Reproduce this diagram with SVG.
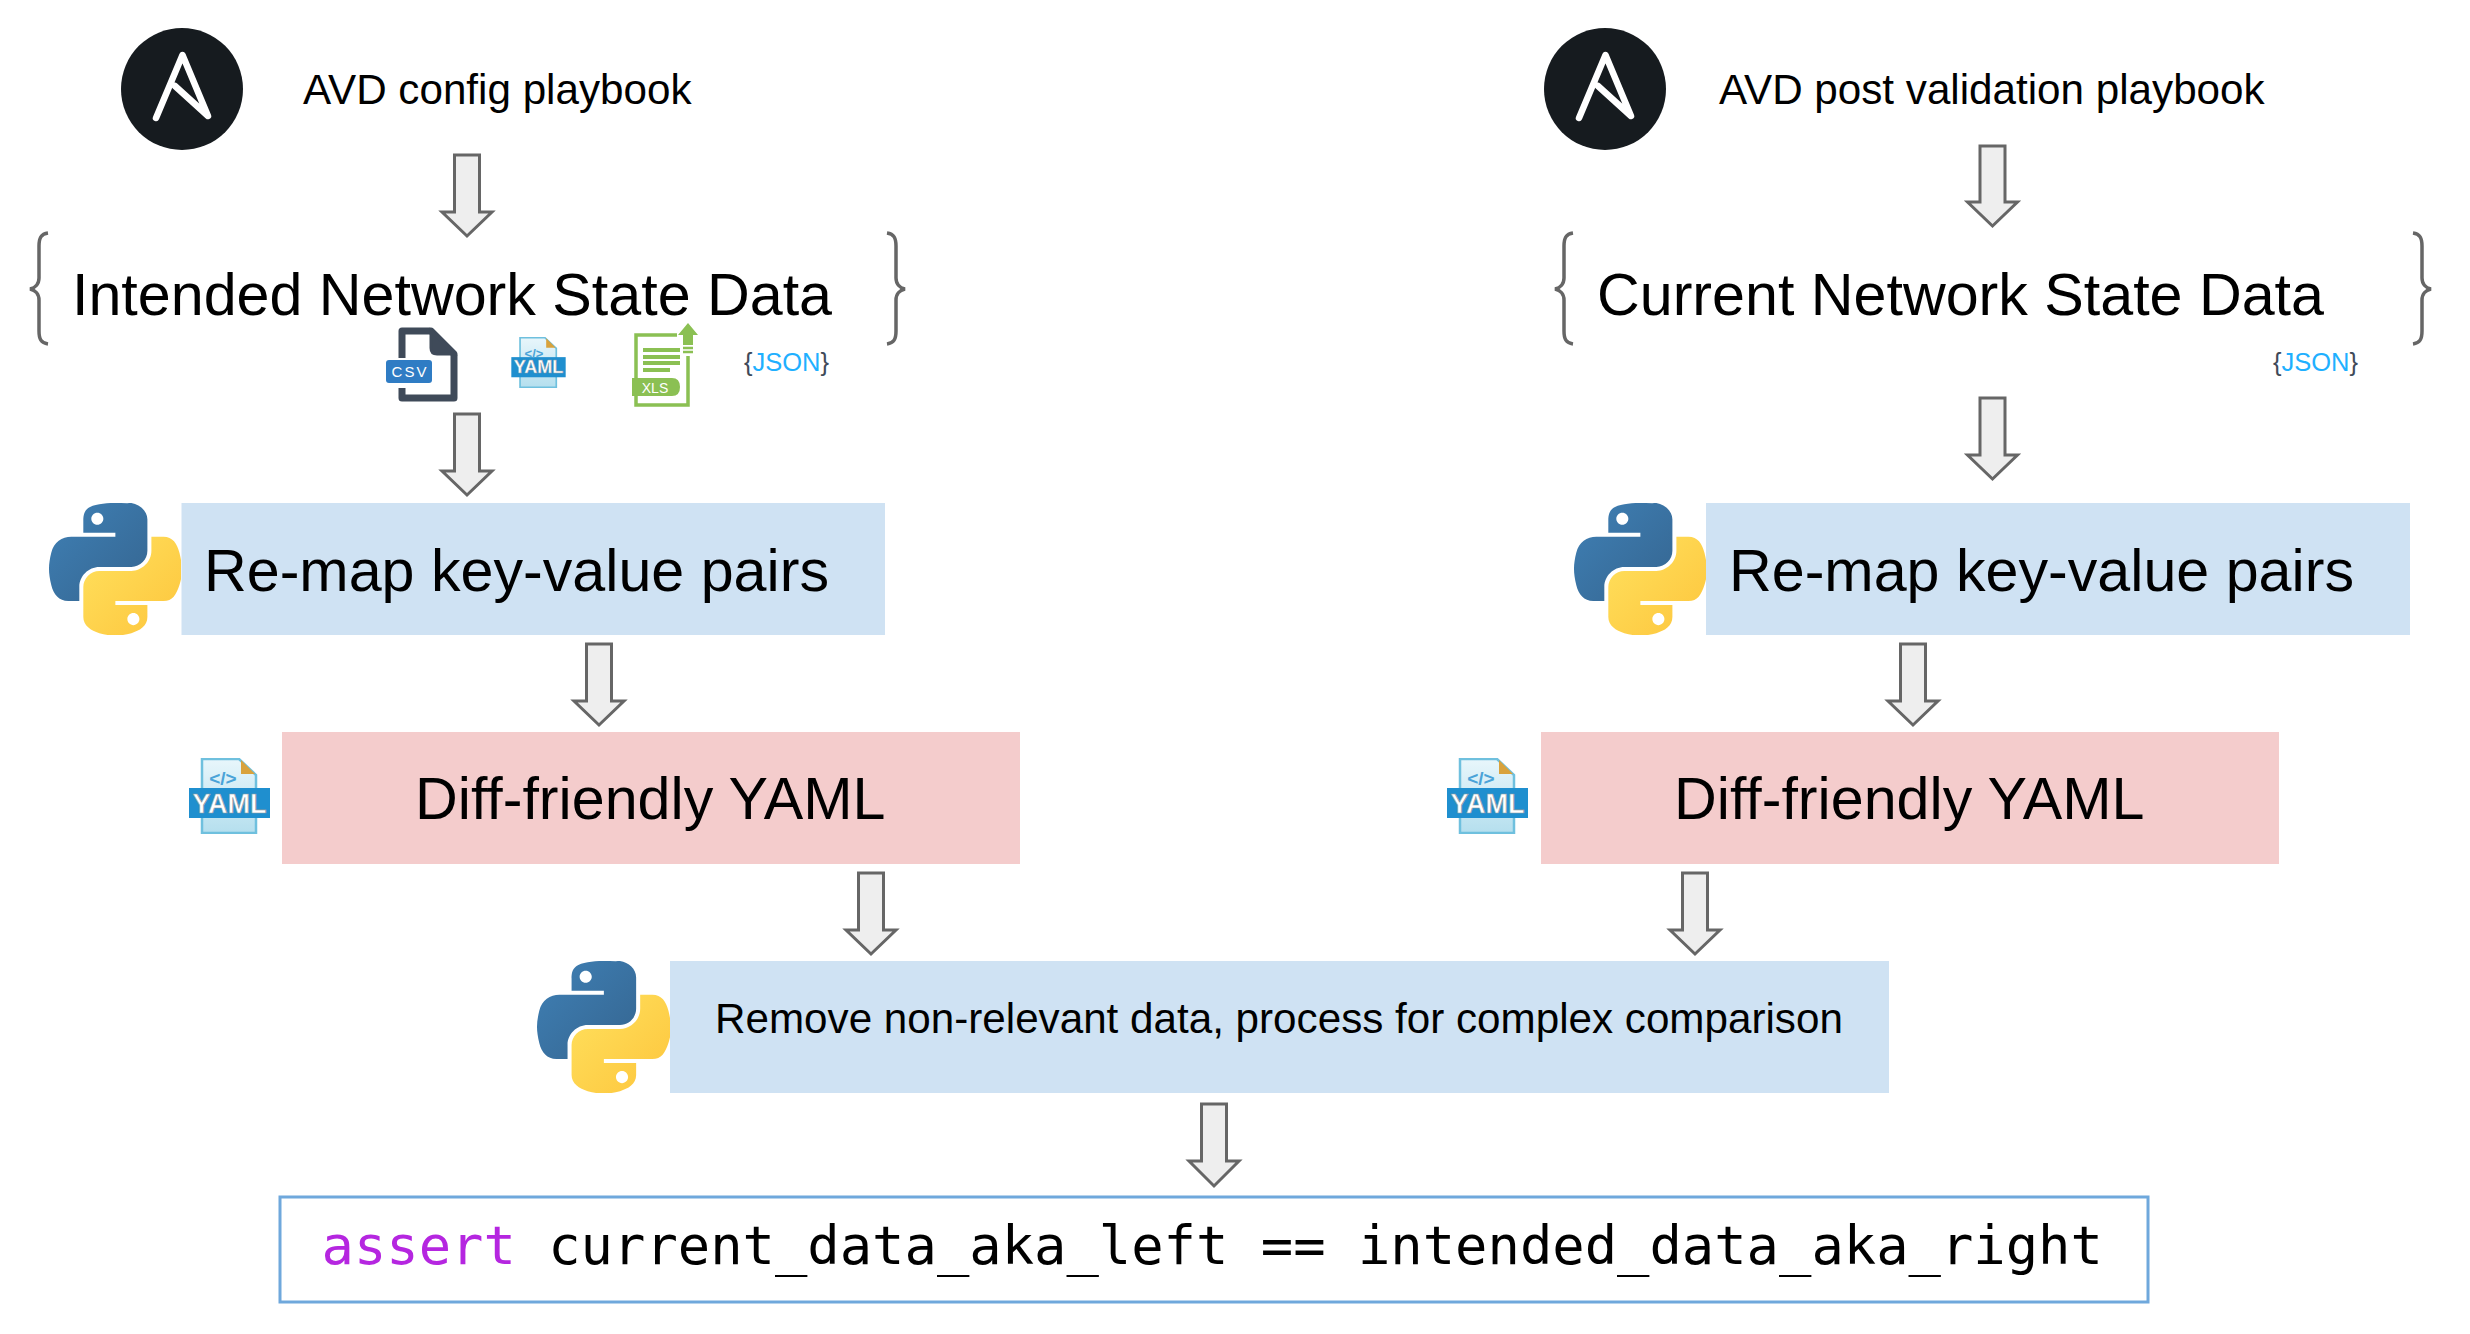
<svg xmlns="http://www.w3.org/2000/svg" width="2470" height="1334" viewBox="0 0 2470 1334">
<style>
text{font-family:"Liberation Sans",Arial,sans-serif;fill:#000}
.play{font-size:42.2px}
.state{font-size:59.2px}
.box{font-size:59.2px}
.small{font-size:42.2px}
.blue{fill:#cfe2f3}
.pink{fill:#f4cccc}
.arrow{fill:#eeeeee;stroke:#666666;stroke-width:3;stroke-linejoin:miter}
.brace{fill:none;stroke:#666666;stroke-width:3.5}
.a{fill:none;stroke:#fff;stroke-width:6.5;stroke-linejoin:round;stroke-linecap:round}
.code{font-family:"DejaVu Sans Mono",monospace;font-size:53.8px}
.json{font-size:25.5px}
.jb{fill:#3f4a59}
.jt{fill:#1fb0ff}
.ym{font-weight:700;fill:#fff;stroke:#8d9aa3;stroke-width:.7;text-anchor:middle}
.ytag{font-weight:700;fill:#4aa3d8;text-anchor:middle}
</style>
<defs>
<linearGradient id="pyB" x1="0" y1="0" x2="1" y2="1"><stop offset="0" stop-color="#3f80b5"/><stop offset="1" stop-color="#356590"/></linearGradient>
<linearGradient id="pyY" x1="0" y1="0" x2="1" y2="1"><stop offset="0" stop-color="#ffe15e"/><stop offset="1" stop-color="#fdc53c"/></linearGradient>
<linearGradient id="yb" x1="0" y1="0" x2="0" y2="1"><stop offset="0" stop-color="#e8f6fb"/><stop offset="1" stop-color="#b5dfee"/></linearGradient>
<symbol id="python" viewBox="0 0 110.4 111.9" preserveAspectRatio="none">
<path fill="url(#pyB)" d="M54.919.001C50.335.022 45.958.413 42.106 1.095 30.76 3.099 28.7 7.295 28.7 15.032v10.219h26.813v3.406H18.638c-7.792 0-14.616 4.684-16.75 13.594-2.462 10.213-2.571 16.586 0 27.25 1.906 7.938 6.458 13.594 14.25 13.594h9.219v-12.25c0-8.85 7.657-16.656 16.75-16.656h26.781c7.455 0 13.406-6.138 13.406-13.625V14.032c0-7.266-6.13-12.725-13.406-13.937C64.282.328 59.502-.02 54.919.001zM40.419 8.22c2.77 0 5.031 2.299 5.031 5.125 0 2.816-2.262 5.094-5.031 5.094-2.78 0-5.031-2.278-5.031-5.094 0-2.826 2.251-5.125 5.031-5.125z"/>
<path fill="url(#pyY)" d="M85.638 28.657v11.906c0 9.231-7.826 17-16.75 17H42.106c-7.336 0-13.406 6.278-13.406 13.625v25.531c0 7.266 6.319 11.54 13.406 13.625 8.487 2.496 16.626 2.947 26.781 0 6.75-1.954 13.406-5.888 13.406-13.625V86.501H55.513v-3.406h40.187c7.792 0 10.696-5.435 13.406-13.594 2.799-8.399 2.68-16.476 0-27.25-1.926-7.757-5.604-13.594-13.406-13.594zM70.575 93.313c2.779 0 5.031 2.277 5.031 5.094 0 2.826-2.252 5.125-5.031 5.125-2.77 0-5.031-2.299-5.031-5.125 0-2.817 2.262-5.094 5.031-5.094z"/>
</symbol>
<symbol id="ansible" viewBox="0 0 122 122">
<circle cx="61" cy="61" r="61" fill="#161b1f"/>
<path class="a" d="M35 90L61.500 27L87 88L54 58"/>
</symbol>
<symbol id="yamlShape" viewBox="0 0 81 76">
<path d="M13 1H50L67 17V75H13Z" fill="url(#yb)" stroke="#6fc0de" stroke-width="2.500"/>
<path d="M52 2L66 16H52Z" fill="#d9a23c"/>
<rect x="0" y="30" width="81" height="30" fill="#1f8fcf"/>
</symbol>
</defs>

<g id="connectors">
<polygon class="arrow" points="454.500,155 479.500,155 479.500,212 492,212 467,236 442,212 454.500,212"/>
<polygon class="arrow" points="454.500,414 479.500,414 479.500,471 492,471 467,495 442,471 454.500,471"/>
<polygon class="arrow" points="586.500,644 611.500,644 611.500,701 624,701 599,725 574,701 586.500,701"/>
<polygon class="arrow" points="858.500,873 883.500,873 883.500,930 896,930 871,954 846,930 858.500,930"/>
<polygon class="arrow" points="1201.500,1104 1226.500,1104 1226.500,1161 1239,1161 1214,1186 1189,1161 1201.500,1161"/>
<polygon class="arrow" points="1980,146 2005,146 2005,202 2017.500,202 1992.500,226 1967.500,202 1980,202"/>
<polygon class="arrow" points="1980,398 2005,398 2005,455 2017.500,455 1992.500,479 1967.500,455 1980,455"/>
<polygon class="arrow" points="1900.500,644 1925.500,644 1925.500,701 1938,701 1913,725 1888,701 1900.500,701"/>
<polygon class="arrow" points="1682.500,873 1707.500,873 1707.500,930 1720,930 1695,954 1670,930 1682.500,930"/>
</g>

<g id="ansible-left"><use href="#ansible" x="121" y="28" width="122" height="122"/></g>
<g id="ansible-right"><use href="#ansible" x="1544" y="28" width="122" height="122"/></g>
<g id="label-config"><text class="play" x="303" y="104">AVD config playbook</text></g>
<g id="label-post"><text class="play" x="1719" y="104">AVD post validation playbook</text></g>

<g id="intended-state">
<path class="brace" d="M48 233C41 234 39 238 39 246V278C39 284 35 288 30 289C35 290 39 294 39 300V331C39 339 41 343 48 344"/>
<path class="brace" d="M887 233C894 234 896 238 896 246V278C896 284 900 288 905 289C900 290 896 294 896 300V331C896 339 894 343 887 344"/>
<text class="state" x="72" y="315">Intended Network State Data</text>
</g>
<g id="current-state">
<path class="brace" d="M1573 233C1566 234 1564 238 1564 246V278C1564 284 1560 288 1555 289C1560 290 1564 294 1564 300V331C1564 339 1566 343 1573 344"/>
<path class="brace" d="M2413 233C2420 234 2422 238 2422 246V278C2422 284 2426 288 2431 289C2426 290 2422 294 2422 300V331C2422 339 2420 343 2413 344"/>
<text class="state" x="1597" y="315">Current Network State Data</text>
</g>

<g id="csv-icon">
<path d="M402 358V331H431L454 354V398H402V388" fill="none" stroke="#3f4a59" stroke-width="7" stroke-linejoin="round"/>
<path d="M431 331V348Q431 354 437 354H454Z" fill="#3f4a59" stroke="#3f4a59" stroke-width="3"/>
<rect x="386" y="360" width="46" height="23" rx="3" fill="#2f7cc4"/>
<text x="410" y="377" font-size="15" text-anchor="middle" letter-spacing="2" style="fill:#fff">CSV</text>
</g>
<g id="yaml-small-icon">
<use href="#yamlShape" x="511" y="337" width="55" height="51"/>
<text class="ytag" x="534" y="358" font-size="13">&lt;/&gt;</text>
<text class="ym" x="538.500" y="373" font-size="18" style="stroke-width:.4">YAML</text>
</g>
<g id="xls-icon">
<path d="M677 335H636V405H688V356" fill="none" stroke="#8bc053" stroke-width="3.500"/>
<path d="M643 350H680M643 357H680M643 363H680M643 370H670" stroke="#8bc053" stroke-width="4" fill="none"/>
<path d="M632 378H672Q680 378 680 387Q680 396 672 396H632Z" fill="#8bc053"/>
<text x="655" y="393" font-size="14" text-anchor="middle" style="fill:#fff">XLS</text>
<path d="M688 323L698 335H693V345H683V335H678Z" fill="#8bc053"/>
<path d="M683 348H693M683 352H693" stroke="#8bc053" stroke-width="2.500"/>
</g>
<g id="json-left"><text class="json" x="744" y="371"><tspan class="jb">{</tspan><tspan class="jt">JSON</tspan><tspan class="jb">}</tspan></text></g>
<g id="json-right"><text class="json" x="2273" y="371"><tspan class="jb">{</tspan><tspan class="jt">JSON</tspan><tspan class="jb">}</tspan></text></g>

<g id="remap-left">
<use href="#python" x="49" y="503" width="132" height="132"/>
<rect class="blue" x="181.500" y="503" width="703.500" height="132"/>
<text class="box" x="204" y="591">Re-map key-value pairs</text>
</g>
<g id="remap-right">
<use href="#python" x="1574" y="503" width="132" height="132"/>
<rect class="blue" x="1706" y="503" width="704" height="132"/>
<text class="box" x="1729" y="591">Re-map key-value pairs</text>
</g>
<g id="diff-left">
<use href="#yamlShape" x="189" y="758" width="81" height="76"/>
<text class="ytag" x="223" y="785" font-size="19">&lt;/&gt;</text>
<text class="ym" x="229.500" y="813" font-size="27">YAML</text>
<rect class="pink" x="282" y="732" width="738" height="132"/>
<text class="box" x="415" y="819">Diff-friendly YAML</text>
</g>
<g id="diff-right">
<use href="#yamlShape" x="1447" y="758" width="81" height="76"/>
<text class="ytag" x="1481" y="785" font-size="19">&lt;/&gt;</text>
<text class="ym" x="1487.500" y="813" font-size="27">YAML</text>
<rect class="pink" x="1541" y="732" width="738" height="132"/>
<text class="box" x="1674" y="819">Diff-friendly YAML</text>
</g>
<g id="remove-data">
<use href="#python" x="537" y="961" width="133" height="132"/>
<rect class="blue" x="670" y="961" width="1219" height="132"/>
<text class="small" x="715" y="1033">Remove non-relevant data, process for complex comparison</text>
</g>
<g id="assert">
<rect x="280" y="1197" width="1868" height="105" fill="#fff" stroke="#6fa8dc" stroke-width="3"/>
<text class="code" x="321.500" y="1264" xml:space="preserve"><tspan style="fill:#b526e0">assert</tspan> current_data_aka_left == intended_data_aka_right</text>
</g>
</svg>
